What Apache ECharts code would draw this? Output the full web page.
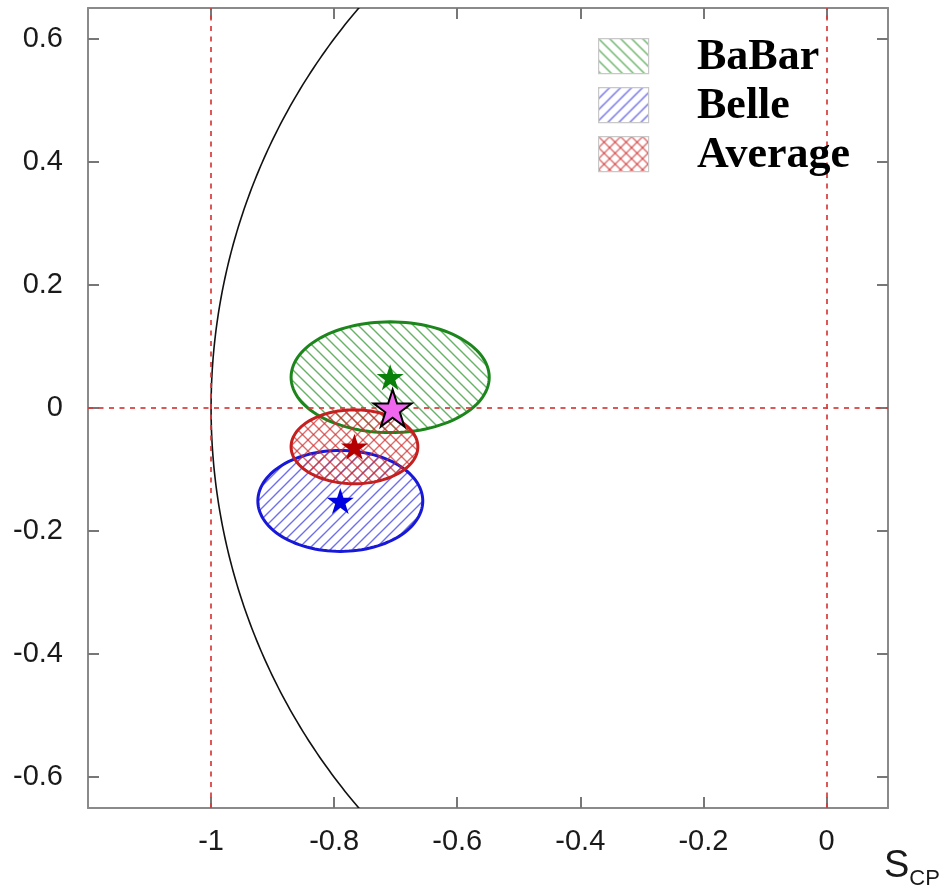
<!DOCTYPE html>
<html>
<head>
<meta charset="utf-8">
<script src="https://cdn.jsdelivr.net/npm/echarts@6/dist/echarts.min.js"></script>
<style>
  html, body { margin: 0; padding: 0; background: #ffffff; }
  #chart { width: 940px; height: 895px; }
</style>
</head>
<body>
<div id="chart"></div>
<script>
// Tick values of both axes
const xTicks = [-1, -0.8, -0.6, -0.4, -0.2, 0];
const yTicks = [-0.6, -0.4, -0.2, 0, 0.2, 0.4, 0.6];

// Measurements: central values (S, C) and 1-sigma half-widths
const experiments = ['BaBar', 'Belle', 'Average'];
const centerS = [-0.709, -0.790, -0.767];
const centerC = [0.050, -0.151, -0.063];
const halfS = [0.161, 0.134, 0.103];
const halfC = [0.090, 0.082, 0.060];

// Theory point
const predictionS = [-0.705];
const predictionC = [0.0];

// Reference lines S = -1, S = 0, C = 0
const refS = [-1, 0];
const refC = [0];

const edgeColors = ['#1c861c', '#1818d8', '#c42020'];
const hatchColors = ['rgba(40,145,40,0.7)', 'rgba(50,50,225,0.7)', 'rgba(205,45,45,0.7)'];
const starColors = ['#08800a', '#0000e0', '#b40000'];
const hatchKinds = ['back', 'fwd', 'cross'];

function makeHatch(color, kind, step) {
  const c = document.createElement('canvas');
  c.width = step; c.height = step;
  const g = c.getContext('2d');
  g.strokeStyle = color;
  g.lineWidth = 1.4;
  function fwd() {
    g.beginPath();
    g.moveTo(-1, step + 1); g.lineTo(step + 1, -1);
    g.moveTo(-1, 1); g.lineTo(1, -1);
    g.moveTo(step - 1, step + 1); g.lineTo(step + 1, step - 1);
    g.stroke();
  }
  function back() {
    g.beginPath();
    g.moveTo(-1, -1); g.lineTo(step + 1, step + 1);
    g.moveTo(step - 1, -1); g.lineTo(step + 1, 1);
    g.moveTo(-1, step - 1); g.lineTo(1, step + 1);
    g.stroke();
  }
  if (kind === 'fwd') fwd();
  else if (kind === 'back') back();
  else { fwd(); back(); }
  return { image: c, repeat: 'repeat' };
}

const patterns = hatchKinds.map((k, i) => makeHatch(hatchColors[i], k, 11));

const starPath = 'path://M50,2 L61.2,36 L97.6,36 L68.2,57.4 L79.4,92 L50,70.6 L20.6,92 L31.8,57.4 L2.4,36 L38.8,36 Z';

const ellipseData = experiments.map((n, i) => [centerS[i], centerC[i], halfS[i], halfC[i], i]);
const starData = experiments.map((n, i) => ({
  value: [centerS[i], centerC[i]],
  itemStyle: { color: starColors[i], opacity: 1 }
}));

const chart = echarts.init(document.getElementById('chart'), null, { renderer: 'canvas' });

const axisLineStyle = { color: '#8a8a8a', width: 2 };
const tickStyle = { color: '#777777', width: 2 };
const labelFont = { fontFamily: 'Liberation Sans, Arial, sans-serif', fontSize: 29, color: '#1a1a1a' };

const option = {
  backgroundColor: '#ffffff',
  animation: false,
  grid: { left: 88, top: 8, right: 52, bottom: 87, show: false },
  xAxis: [
    {
      type: 'value', min: -1.2, max: 0.1, position: 'bottom',
      splitLine: { show: false },
      axisLine: { show: true, onZero: false, lineStyle: axisLineStyle },
      axisTick: { show: true, inside: true, length: 11, customValues: xTicks, lineStyle: tickStyle },
      axisLabel: Object.assign({ customValues: xTicks, margin: 19 }, labelFont)
    },
    {
      type: 'value', min: -1.2, max: 0.1, position: 'top',
      splitLine: { show: false },
      axisLine: { show: true, onZero: false, lineStyle: axisLineStyle },
      axisTick: { show: true, inside: true, length: 11, customValues: xTicks, lineStyle: tickStyle },
      axisLabel: { show: false }
    }
  ],
  yAxis: [
    {
      type: 'value', min: -0.65, max: 0.65, position: 'left',
      splitLine: { show: false },
      axisLine: { show: true, onZero: false, lineStyle: axisLineStyle },
      axisTick: { show: true, inside: true, length: 11, customValues: yTicks, lineStyle: tickStyle },
      axisLabel: Object.assign({ customValues: yTicks, margin: 25 }, labelFont)
    },
    {
      type: 'value', min: -0.65, max: 0.65, position: 'right',
      splitLine: { show: false },
      axisLine: { show: true, onZero: false, lineStyle: axisLineStyle },
      axisTick: { show: true, inside: true, length: 11, customValues: yTicks, lineStyle: tickStyle },
      axisLabel: { show: false }
    }
  ],
  series: [
    {
      // Physical boundary S^2 + C^2 = 1
      type: 'custom', name: 'boundary', silent: true, clip: true, z: 2,
      data: [[0]],
      renderItem: function (params, api) {
        const pts = [];
        for (let k = 0; k <= 200; k++) {
          const c = -0.7 + 1.4 * k / 200;
          pts.push(api.coord([-Math.sqrt(1 - c * c), c]));
        }
        return { type: 'polyline', shape: { points: pts }, style: { stroke: '#111111', lineWidth: 1.6, fill: null } };
      }
    },
    {
      type: 'custom', name: 'refLines', silent: true, z: 3,
      data: [],
      renderItem: function () { return null; },
      markLine: {
        silent: true, symbol: 'none', label: { show: false },
        lineStyle: { color: '#d83a3a', width: 2, type: [5, 5.5], opacity: 0.85 },
        data: refS.map(v => ({ xAxis: v })).concat(refC.map(v => ({ yAxis: v })))
      }
    },
    {
      type: 'custom', name: 'contours', silent: true, clip: true, z: 4,
      data: ellipseData,
      renderItem: function (params, api) {
        const s = api.value(0), c = api.value(1), hs = api.value(2), hc = api.value(3), idx = api.value(4);
        const pts = [];
        for (let k = 0; k < 120; k++) {
          const t = 2 * Math.PI * k / 120;
          pts.push(api.coord([s + hs * Math.cos(t), c + hc * Math.sin(t)]));
        }
        return {
          type: 'polygon', shape: { points: pts },
          style: { fill: patterns[idx], stroke: edgeColors[idx], lineWidth: 3 }
        };
      }
    },
    {
      type: 'scatter', name: 'centres', silent: true, z: 6,
      symbol: starPath, symbolSize: [27, 26],
      itemStyle: { opacity: 1 },
      data: starData
    },
    {
      type: 'scatter', name: 'prediction', silent: true, z: 7,
      symbol: starPath, symbolSize: [38, 37],
      itemStyle: { color: '#f066ee', borderColor: '#000000', borderWidth: 2, opacity: 1 },
      data: predictionS.map((s, i) => [s, predictionC[i]])
    }
  ],
  graphic: [
    ...experiments.map((n, i) => ({
      type: 'rect', left: 598, top: 38 + i * 49, z: 10,
      shape: { width: 50, height: 35 },
      style: { fill: patterns[i], stroke: '#c8c8c8', lineWidth: 1.2 }
    })),
    ...experiments.map((n, i) => ({
      type: 'text', left: 697, top: 36 + i * 49, z: 10,
      style: {
        text: n, fill: '#000000',
        font: 'bold 44px "Liberation Serif", "Times New Roman", serif'
      }
    })),
    {
      type: 'text', left: 884, top: 848, z: 10,
      style: {
        text: '{s|S}{sub|CP}',
        rich: {
          s: { fontFamily: 'Liberation Sans, Arial, sans-serif', fontSize: 38, fill: '#1a1a1a', verticalAlign: 'top' },
          sub: { fontFamily: 'Liberation Sans, Arial, sans-serif', fontSize: 22, fill: '#1a1a1a', padding: [20, 0, 0, 0] }
        }
      }
    }
  ]
};

chart.setOption(option);
</script>
</body>
</html>
